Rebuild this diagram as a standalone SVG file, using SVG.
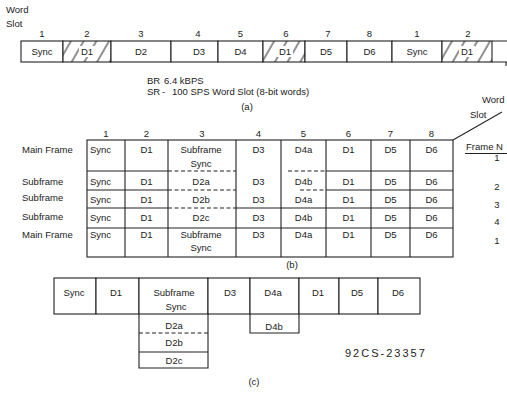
<svg xmlns="http://www.w3.org/2000/svg" width="507" height="395" viewBox="0 0 507 395">
<style>
.t{font-family:"Liberation Sans",Arial,sans-serif;font-size:9.5px;fill:#222;text-anchor:middle}
.s{text-anchor:start}
.c{fill:#fff;stroke:#222;stroke-width:1.1}
.h{fill:url(#hatch);stroke:#222;stroke-width:1.1}
.ln{stroke:#222;stroke-width:1.1;fill:none}
.d{stroke-dasharray:4 2.5}
.w{fill:#fff}
.id{font-family:"Liberation Sans",Arial,sans-serif;font-size:11px;fill:#222;letter-spacing:2px}
</style>
<defs>
<pattern id="hatch" patternUnits="userSpaceOnUse" width="11" height="11" patternTransform="rotate(30)">
<rect width="11" height="11" fill="#fff"/>
<line x1="5" y1="0" x2="5" y2="11" stroke="#222" stroke-width="1"/>
</pattern>
</defs>
<rect width="507" height="395" fill="#fff"/>

<!-- Part (a) -->
<g id="a-header">
<text class="t s" x="6" y="13">Word</text>
<text class="t s" x="6" y="27">Slot</text>
<text class="t" x="42" y="36.5">1</text>
<text class="t" x="87" y="36.5">2</text>
<text class="t" x="141" y="36.5">3</text>
<text class="t" x="198" y="36.5">4</text>
<text class="t" x="240.5" y="36.5">5</text>
<text class="t" x="286" y="36.5">6</text>
<text class="t" x="328" y="36.5">7</text>
<text class="t" x="369.5" y="36.5">8</text>
<text class="t" x="417" y="36.5">1</text>
<text class="t" x="468" y="36.5">2</text>
</g>
<g id="a-slot1"><rect class="c" x="21" y="41" width="42" height="21"/><text class="t" x="42" y="55">Sync</text></g>
<g id="a-slot2"><rect class="h" x="63" y="41" width="48" height="21"/><rect class="w" x="79" y="46" width="16" height="11"/><text class="t" x="87" y="55">D1</text></g>
<g id="a-slot3"><rect class="c" x="111" y="41" width="60" height="21"/><text class="t" x="141" y="55">D2</text></g>
<g id="a-slot4"><rect class="c" x="171" y="41" width="47" height="21"/><text class="t" x="199" y="55">D3</text></g>
<g id="a-slot5"><rect class="c" x="218" y="41" width="45" height="21"/><text class="t" x="240.5" y="55">D4</text></g>
<g id="a-slot6"><rect class="h" x="263" y="41" width="42" height="21"/><rect class="w" x="277" y="46" width="16" height="11"/><text class="t" x="285" y="55">D1</text></g>
<g id="a-slot7"><rect class="c" x="305" y="41" width="42" height="21"/><text class="t" x="326" y="55">D5</text></g>
<g id="a-slot8"><rect class="c" x="347" y="41" width="45" height="21"/><text class="t" x="369.5" y="55">D6</text></g>
<g id="a-slot9"><rect class="c" x="392" y="41" width="50" height="21"/><text class="t" x="417" y="55">Sync</text></g>
<g id="a-slot10"><rect class="h" x="442" y="41" width="50" height="21"/><rect class="w" x="459" y="46" width="16" height="11"/><text class="t" x="467" y="55">D1</text></g>
<g id="a-open"><path class="ln" d="M492 41H507M492 62H507M506 62V66"/></g>
<g id="a-notes">
<text class="t s" x="147" y="84">BR</text>
<text class="t s" x="164" y="84">6.4 kBPS</text>
<text class="t s" x="147" y="95">SR</text>
<text class="t s" x="162" y="95">-</text>
<text class="t s" x="172" y="95">100 SPS Word Slot (8-bit words)</text>
<text class="t" x="247" y="110">(a)</text>
</g>

<!-- Part (b) -->
<g id="b-colnums">
<text class="t" x="106" y="136.5">1</text>
<text class="t" x="146.5" y="136.5">2</text>
<text class="t" x="202" y="136.5">3</text>
<text class="t" x="258.5" y="136.5">4</text>
<text class="t" x="303.5" y="136.5">5</text>
<text class="t" x="348.5" y="136.5">6</text>
<text class="t" x="390.5" y="136.5">7</text>
<text class="t" x="431.5" y="136.5">8</text>
</g>
<g id="b-rowlabels">
<text class="t s" x="22" y="152.5">Main Frame</text>
<text class="t s" x="22" y="184.5">Subframe</text>
<text class="t s" x="22" y="200.5">Subframe</text>
<text class="t s" x="22" y="219.5">Subframe</text>
<text class="t s" x="22" y="237.5">Main Frame</text>
</g>
<g id="b-grid">
<rect class="ln" x="87" y="140" width="366" height="117"/>
<path class="ln" d="M125 140V257M168 140V257M236 140V257M281 140V257M326 140V257M371 140V257M410 140V257"/>
<path class="ln" d="M87 171H168M326 171H453M87 190H168M326 190H453M87 208H168M236 208H453M87 228H453"/>
<path class="ln d" d="M168 171H236M288 171H326M168 190H236M300 190H326M168 208H236"/>
</g>
<g id="b-row1">
<text class="t s" x="90" y="152.5">Sync</text>
<text class="t" x="146.5" y="152.5">D1</text>
<text class="t" x="201" y="152.5">Subframe</text>
<text class="t" x="201" y="166.5">Sync</text>
<text class="t" x="258.5" y="152.5">D3</text>
<text class="t" x="303.5" y="152.5">D4a</text>
<text class="t" x="348.5" y="152.5">D1</text>
<text class="t" x="390.5" y="152.5">D5</text>
<text class="t" x="431.5" y="152.5">D6</text>
</g>
<g id="b-row2">
<text class="t s" x="90" y="184.5">Sync</text>
<text class="t" x="146.5" y="184.5">D1</text>
<text class="t" x="201" y="184.5">D2a</text>
<text class="t" x="258.5" y="184.5">D3</text>
<text class="t" x="303.5" y="184.5">D4b</text>
<text class="t" x="348.5" y="184.5">D1</text>
<text class="t" x="390.5" y="184.5">D5</text>
<text class="t" x="431.5" y="184.5">D6</text>
</g>
<g id="b-row3">
<text class="t s" x="90" y="202.5">Sync</text>
<text class="t" x="146.5" y="202.5">D1</text>
<text class="t" x="201" y="202.5">D2b</text>
<text class="t" x="258.5" y="202.5">D3</text>
<text class="t" x="303.5" y="202.5">D4a</text>
<text class="t" x="348.5" y="202.5">D1</text>
<text class="t" x="390.5" y="202.5">D5</text>
<text class="t" x="431.5" y="202.5">D6</text>
</g>
<g id="b-row4">
<text class="t s" x="90" y="220.5">Sync</text>
<text class="t" x="146.5" y="220.5">D1</text>
<text class="t" x="201" y="220.5">D2c</text>
<text class="t" x="258.5" y="220.5">D3</text>
<text class="t" x="303.5" y="220.5">D4b</text>
<text class="t" x="348.5" y="220.5">D1</text>
<text class="t" x="390.5" y="220.5">D5</text>
<text class="t" x="431.5" y="220.5">D6</text>
</g>
<g id="b-row5">
<text class="t s" x="90" y="237.5">Sync</text>
<text class="t" x="146.5" y="237.5">D1</text>
<text class="t" x="201" y="237.5">Subframe</text>
<text class="t" x="201" y="250.5">Sync</text>
<text class="t" x="258.5" y="237.5">D3</text>
<text class="t" x="303.5" y="237.5">D4a</text>
<text class="t" x="348.5" y="237.5">D1</text>
<text class="t" x="390.5" y="237.5">D5</text>
<text class="t" x="431.5" y="237.5">D6</text>
</g>
<g id="b-corner">
<text class="t s" x="482" y="103">Word</text>
<text class="t s" x="470" y="118">Slot</text>
<line class="ln" x1="453" y1="140" x2="502" y2="112"/>
<text class="t s" x="466" y="149.5">Frame N</text>
<line class="ln" x1="465" y1="153.5" x2="507" y2="153.5"/>
<text class="t" x="497" y="161">1</text>
<text class="t" x="497" y="189.5">2</text>
<text class="t" x="497" y="207.5">3</text>
<text class="t" x="497" y="224.5">4</text>
<text class="t" x="497" y="243.5">1</text>
</g>
<text class="t" x="292" y="268">(b)</text>

<!-- Part (c) -->
<g id="c-sync"><rect class="c" x="54" y="278" width="42" height="36"/><text class="t" x="74" y="296">Sync</text></g>
<g id="c-d1"><rect class="c" x="96" y="278" width="43" height="36"/><text class="t" x="116" y="296">D1</text></g>
<g id="c-subsync"><rect class="c" x="139" y="278" width="69" height="36"/><text class="t" x="174" y="296">Subframe</text><text class="t" x="176" y="310">Sync</text></g>
<g id="c-d3"><rect class="c" x="208" y="278" width="42" height="36"/><text class="t" x="230" y="296">D3</text></g>
<g id="c-d4a"><rect class="c" x="250" y="278" width="49" height="36"/><text class="t" x="273" y="296">D4a</text></g>
<g id="c-d1b"><rect class="c" x="299" y="278" width="40" height="36"/><text class="t" x="318" y="296">D1</text></g>
<g id="c-d5"><rect class="c" x="339" y="278" width="39" height="36"/><text class="t" x="357" y="296">D5</text></g>
<g id="c-d6"><rect class="c" x="378" y="278" width="42" height="36"/><text class="t" x="398" y="296">D6</text></g>
<g id="c-d2stack">
<path class="ln" d="M139 314V368H208V314M139 352H208"/>
<path class="ln d" d="M139 333H208"/>
<text class="t" x="174" y="328.5">D2a</text>
<text class="t" x="174" y="346">D2b</text>
<text class="t" x="174" y="364">D2c</text>
</g>
<g id="c-d4b">
<path class="ln" d="M250 314V333H299V314"/>
<text class="t" x="274" y="329.5">D4b</text>
</g>
<text class="id" x="345" y="357">92CS-23357</text>
<text class="t" x="254" y="385">(c)</text>
</svg>
